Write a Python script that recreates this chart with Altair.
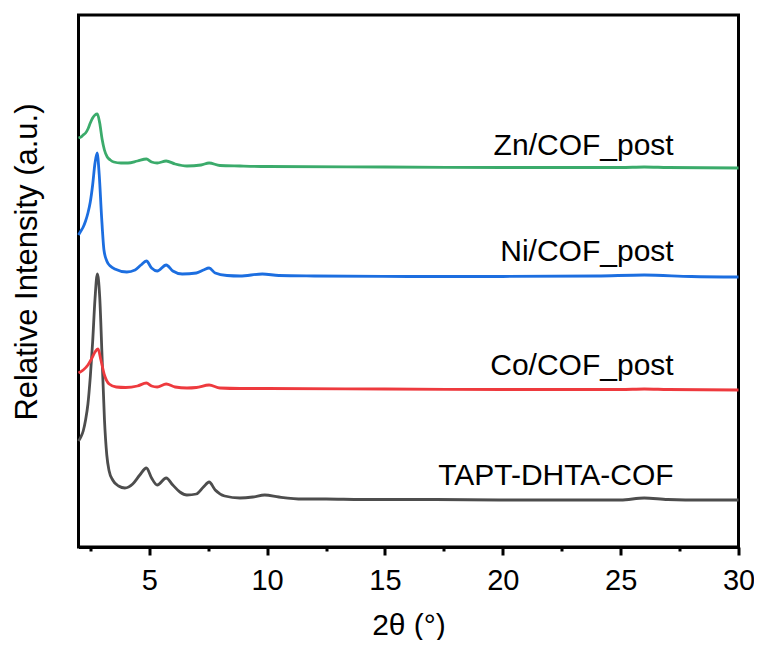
import altair as alt
import pandas as pd

# ---- data (2θ in degrees, intensity in arbitrary units) ----
series_names = ["TAPT-DHTA-COF", "Co/COF_post", "Ni/COF_post", "Zn/COF_post"]
series_colors = ["#4d4d4d", "#ee3a3e", "#1c6ee0", "#3bab6b"]

cof_x = [2.0, 2.1, 2.2, 2.3, 2.4, 2.5, 2.6, 2.7, 2.8, 2.9, 3.0, 3.1, 3.2, 3.3, 3.45, 3.7, 3.97,
         4.3, 4.6, 4.88, 5.1, 5.34, 5.72, 6.0, 6.3, 6.6, 7.0, 7.3, 7.54, 7.8, 8.2, 8.85,
         9.4, 9.9, 10.5, 11.5, 12.5, 14.0, 17.0, 20.0, 23.0, 25.0, 26.0, 27.0, 28.5, 30.0]
cof_y = [106, 110, 116, 127, 143, 170, 205, 248, 273, 250, 190, 128, 92, 76, 67, 61, 59,
         63, 72, 79, 69, 62, 69, 62, 55, 52, 53, 60, 65, 57, 51, 49,
         50, 52, 50, 48, 48, 47.5, 47.5, 47, 47, 47, 49, 47.5, 47, 47]

co_x = [2.0, 2.2, 2.4, 2.55, 2.7, 2.83, 2.95, 3.1, 3.3, 3.6, 4.0, 4.5, 4.88, 5.1, 5.34, 5.72,
        6.1, 6.6, 7.0, 7.54, 8.0, 8.85, 10.0, 15.0, 20.0, 25.0, 26.0, 27.0, 30.0]
co_y = [174, 177, 182, 188, 195, 198, 187, 172, 163, 160, 159.5, 161, 164, 161, 160, 163,
        160, 159, 159.5, 162, 159, 158.5, 158.5, 158, 157.5, 157.5, 158, 157.5, 157]

ni_x = [2.0, 2.1, 2.2, 2.3, 2.4, 2.5, 2.6, 2.7, 2.79, 2.88, 2.98, 3.08, 3.2, 3.35, 3.54, 4.05,
        4.4, 4.65, 4.88, 5.1, 5.34, 5.72, 6.0, 6.4, 7.0, 7.3, 7.54, 7.8, 8.3, 8.85,
        9.8, 10.5, 12.0, 16.0, 20.0, 24.0, 26.0, 28.0, 30.0]
ni_y = [312, 316, 320, 326, 334, 345, 362, 384, 394, 372, 330, 297, 286, 281, 278, 275,
        277, 282, 286, 279, 276, 282, 276, 273, 274, 277, 279, 274, 271.5, 271,
        273, 271.5, 271, 270.5, 270.5, 271, 272, 270.5, 270]

zn_x = [2.0, 2.1, 2.2, 2.3, 2.4, 2.5, 2.6, 2.7, 2.8, 2.9, 3.0, 3.1, 3.22, 3.35, 3.5, 3.8, 4.1,
        4.5, 4.88, 5.1, 5.34, 5.72, 6.1, 6.6, 7.2, 7.54, 8.0, 8.85, 10.0, 15.0, 20.0,
        25.0, 26.0, 27.0, 30.0]
zn_y = [409, 410, 412, 414, 418, 424, 429, 432, 433, 424, 408, 397, 390, 387, 385, 384, 384,
        386, 388, 385, 384, 386, 383, 381, 382, 384, 381.5, 381, 380.5, 380, 379.5,
        379.5, 380, 379.5, 379]

label_x = [27.25, 27.25, 27.25, 27.25]
label_y = [62, 172, 286, 392]

major_ticks = [5, 10, 15, 20, 25, 30]
minor_ticks = [2.5, 7.5, 12.5, 17.5, 22.5, 27.5]

# ---- build tables ----
rows = []
for name, xs, ys in zip(series_names, [cof_x, co_x, ni_x, zn_x], [cof_y, co_y, ni_y, zn_y]):
    for a, b in zip(xs, ys):
        rows.append({"series": name, "x": a, "y": b})
lines_df = pd.DataFrame(rows)
labels_df = pd.DataFrame({"series": series_names, "x": label_x, "y": label_y})

FONT = "Liberation Sans"
xscale = alt.Scale(domain=[2, 30], nice=False, zero=False)
yscale = alt.Scale(domain=[0, 532], nice=False, zero=False)

lines = alt.Chart(lines_df).mark_line(strokeWidth=2.8, interpolate="monotone").encode(
    x=alt.X("x:Q", scale=xscale,
            axis=alt.Axis(values=major_ticks, title="2θ (°)", orient="bottom",
                          tickSize=8, tickWidth=3, tickColor="black",
                          domainWidth=3, domainColor="black",
                          labelFontSize=29, labelColor="black", labelFont=FONT,
                          labelBaseline="alphabetic", labelPadding=34,
                          labelFlush=False, labelOverlap=False,
                          titleFontSize=30, titleFont=FONT, titleFontWeight="normal",
                          titleColor="black", titleBaseline="alphabetic", titleY=87,
                          grid=False)),
    y=alt.Y("y:Q", scale=yscale,
            axis=alt.Axis(title="Relative Intensity (a.u.)", labels=False, ticks=False,
                          domain=False, grid=False, orient="left",
                          titleFontSize=31, titleFont=FONT, titleFontWeight="normal",
                          titleColor="black", titleAngle=-90, titleAlign="center",
                          titleBaseline="alphabetic", titleX=-42, titleY=246.5)),
    color=alt.Color("series:N", scale=alt.Scale(domain=series_names, range=series_colors),
                    legend=None),
    order=alt.Order("x:Q"),
)

labels = alt.Chart(labels_df).mark_text(
    align="right", baseline="alphabetic", fontSize=30, font=FONT, color="black"
).encode(
    x=alt.X("x:Q", scale=xscale,
            axis=alt.Axis(values=minor_ticks, orient="bottom", labels=False, domain=False,
                          tickSize=4, tickWidth=3, tickColor="black", grid=False,
                          title=None)),
    y=alt.Y("y:Q", scale=yscale, axis=None),
    text="series:N",
)

chart = alt.layer(lines, labels).resolve_axis(x="independent", y="independent").properties(
    width=660, height=532,
    autosize=alt.AutoSizeParams(type="none"),
    padding={"left": 70.5, "top": 7, "right": 15.5, "bottom": 93},
).configure(font=FONT).configure_view(stroke="black", strokeWidth=3)

chart.save("out.html", embed_options={"renderer": "svg", "actions": False})
